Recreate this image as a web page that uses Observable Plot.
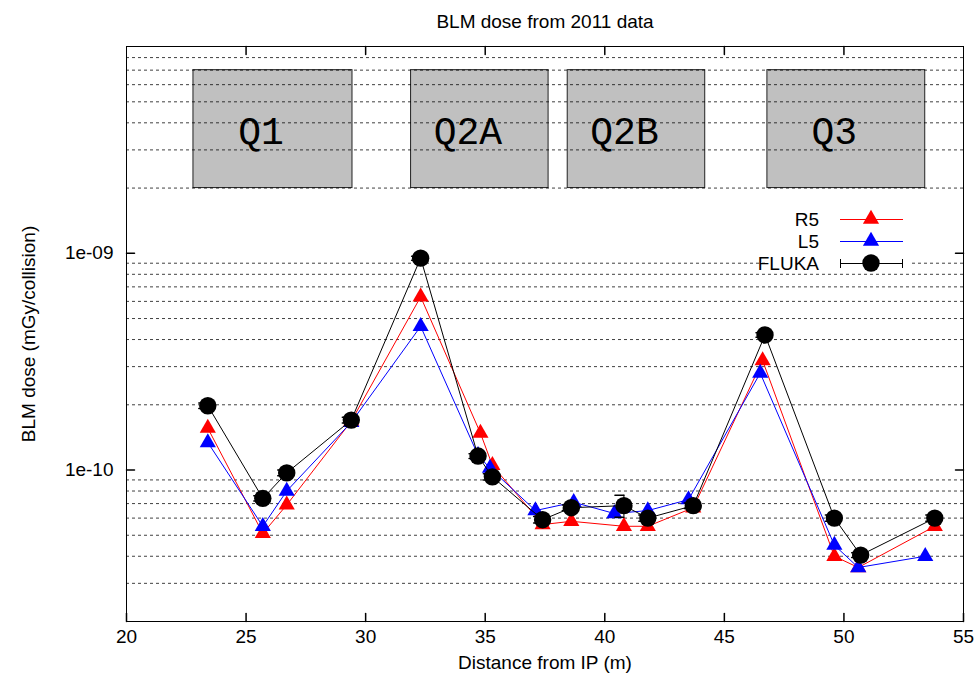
<!DOCTYPE html>
<html><head><meta charset="utf-8">
<script src="https://cdn.jsdelivr.net/npm/d3@7"></script>
<script src="https://cdn.jsdelivr.net/npm/@observablehq/plot@0.6"></script>
<style>
body{margin:0;background:#fff;}
#wrap{position:relative;width:976px;height:680px;}
#legend{position:absolute;left:0;top:0;pointer-events:none;}
</style></head><body><div id="wrap"></div>
<script>
// ---- texts ----
const chartTitle = "BLM dose from 2011 data";
const xLabel = "Distance from IP (m)";
const yLabel = "BLM dose (mGy/collision)";

// ---- axes ----
const xTicks = [20, 25, 30, 35, 40, 45, 50, 55];
const xTopTicks = [25, 30, 35, 40, 45, 50];
const yMajorTicks = [1e-10, 1e-9];
const yMajorLabels = ["1e-10", "1e-09"];
const yGridLines = [3e-11, 4e-11, 5e-11, 6e-11, 7e-11, 8e-11, 9e-11,
  2e-10, 3e-10, 4e-10, 5e-10, 6e-10, 7e-10, 8e-10, 9e-10,
  2e-9, 3e-9, 4e-9, 5e-9, 6e-9, 7e-9, 8e-9];
const xDomain = [20, 55];
const yDomain = [2e-11, 9e-9];

// ---- magnets ----
const magnetNames = ["Q1", "Q2A", "Q2B", "Q3"];
const magnetStart = [22.8, 31.9, 38.45, 46.8];
const magnetEnd = [29.45, 37.65, 44.2, 53.4];
const magnetLow = [2e-9, 2e-9, 2e-9, 2e-9];
const magnetHigh = [7e-9, 7e-9, 7e-9, 7e-9];

// ---- series ----
const seriesNames = ["R5", "L5", "FLUKA"];
const r5X = [23.4, 25.7, 26.7, 29.4, 32.3, 34.8, 35.3, 37.4, 38.6, 40.8, 41.8, 43.7, 46.6, 49.6, 50.6, 53.8];
const r5Y = [1.56e-10, 5.1e-11, 6.9e-11, 1.68e-10, 6.3e-10, 1.48e-10, 1.05e-10, 5.6e-11, 5.8e-11, 5.5e-11, 5.5e-11, 6.7e-11, 3.2e-10, 4.0e-11, 3.55e-11, 5.5e-11];
const l5X = [23.4, 25.7, 26.7, 29.4, 32.3, 34.7, 35.2, 37.1, 38.7, 40.4, 41.8, 43.5, 46.5, 49.6, 50.6, 53.4];
const l5Y = [1.34e-10, 5.5e-11, 8.0e-11, 1.66e-10, 4.6e-10, 1.17e-10, 1.02e-10, 6.5e-11, 7.1e-11, 6.3e-11, 6.5e-11, 7.3e-11, 2.8e-10, 4.5e-11, 3.55e-11, 4.0e-11];
const flukaX = [23.4, 25.7, 26.7, 29.4, 32.3, 34.7, 35.3, 37.4, 38.6, 40.8, 41.8, 43.7, 46.7, 49.6, 50.7, 53.8];
const flukaY = [1.98e-10, 7.4e-11, 9.7e-11, 1.70e-10, 9.5e-10, 1.16e-10, 9.3e-11, 5.9e-11, 6.7e-11, 6.85e-11, 6.0e-11, 6.85e-11, 4.2e-10, 6.0e-11, 4.05e-11, 6.0e-11];
const flukaErr = [6e-12, 2e-12, 3e-12, 5e-12, 2e-11, 3e-12, 3e-12, 2e-12, 2e-12, 8e-12, 2e-12, 2e-12, 1e-11, 2e-12, 1e-12, 2e-12];

// ---- build tables ----
const r5 = r5X.map((x, i) => ({x, y: r5Y[i]}));
const l5 = l5X.map((x, i) => ({x, y: l5Y[i]}));
const fluka = flukaX.map((x, i) => ({x, y: flukaY[i], lo: flukaY[i] - flukaErr[i], hi: flukaY[i] + flukaErr[i]}));
const magnets = magnetNames.map((name, i) => ({name, x1: magnetStart[i], x2: magnetEnd[i], y1: magnetLow[i], y2: magnetHigh[i]}));
const majors = yMajorTicks.map((v, i) => ({v, label: yMajorLabels[i]}));

const FONT = "Liberation Sans, Arial, sans-serif";
const FS = 19;
const lineShape = {draw(ctx, l) { ctx.moveTo(0, 0); ctx.lineTo(0, -l); }};
const capShape = {draw(ctx, l) { ctx.moveTo(0, l / 2); ctx.lineTo(0, -l / 2); }};

const chart = Plot.plot({
  width: 976, height: 680,
  marginLeft: 126, marginRight: 13, marginTop: 46, marginBottom: 59,
  style: {fontFamily: FONT, background: "#fff", color: "#000"},
  x: {domain: xDomain, axis: null},
  y: {type: "log", domain: yDomain, axis: null},
  marks: [
    // magnets
    Plot.rect(magnets, {x1: "x1", x2: "x2", y1: "y1", y2: "y2", fill: "#c0c0c0", stroke: "#222", strokeWidth: 1}),
    Plot.text(magnets, {x: d => (d.x1 + d.x2) / 2, y: d => Math.sqrt(d.y1 * d.y2), text: "name", dx: -12, dy: 3,
      fontFamily: "Liberation Mono, Courier New, monospace", fontSize: 38, fill: "#000"}),
    // grid
    Plot.ruleY(yGridLines, {stroke: "#000", strokeOpacity: 0.75, strokeDasharray: "3,3", strokeWidth: 1}),
    // frame
    Plot.frame({stroke: "#000", strokeWidth: 1}),
    // ticks
    Plot.vector(xTicks, {x: d => d, frameAnchor: "bottom", length: 8, rotate: 0, anchor: "start", shape: lineShape, stroke: "#000"}),
    Plot.vector(xTopTicks, {x: d => d, frameAnchor: "top", length: 8, rotate: 180, anchor: "start", shape: lineShape, stroke: "#000"}),
    Plot.vector(majors, {y: "v", frameAnchor: "left", length: 8, rotate: 90, anchor: "start", shape: lineShape, stroke: "#000"}),
    Plot.vector(majors, {y: "v", frameAnchor: "right", length: 8, rotate: -90, anchor: "start", shape: lineShape, stroke: "#000"}),
    // tick labels
    Plot.text(xTicks, {x: d => d, frameAnchor: "bottom", dy: 21, text: d => String(d), fontSize: FS, fill: "#000"}),
    Plot.text(majors, {y: "v", frameAnchor: "left", dx: -13, textAnchor: "end", text: "label", fontSize: FS, fill: "#000"}),
    // axis titles
    Plot.text([xLabel], {frameAnchor: "bottom", dy: 47, text: d => d, fontSize: FS, fill: "#000"}),
    Plot.text([yLabel], {frameAnchor: "left", dx: -98, rotate: -90, textAnchor: "middle", text: d => d, fontSize: FS, fill: "#000"}),
    Plot.text([chartTitle], {frameAnchor: "top", dy: -32, text: d => d, fontSize: FS, fill: "#000"}),
    // R5
    Plot.line(r5, {x: "x", y: "y", stroke: "#ff0000", strokeWidth: 1}),
    Plot.dot(r5, {x: "x", y: "y", symbol: "triangle", r: 6, fill: "#ff0000"}),
    // L5
    Plot.line(l5, {x: "x", y: "y", stroke: "#0000ff", strokeWidth: 1}),
    Plot.dot(l5, {x: "x", y: "y", symbol: "triangle", r: 6, fill: "#0000ff"}),
    // FLUKA
    Plot.ruleX(fluka, {x: "x", y1: "lo", y2: "hi", stroke: "#000", strokeWidth: 1}),
    Plot.vector(fluka, {x: "x", y: "lo", length: 9, rotate: 90, anchor: "middle", shape: capShape, stroke: "#000"}),
    Plot.vector(fluka, {x: "x", y: "hi", length: 9, rotate: 90, anchor: "middle", shape: capShape, stroke: "#000"}),
    Plot.line(fluka, {x: "x", y: "y", stroke: "#000", strokeWidth: 1}),
    Plot.dot(fluka, {x: "x", y: "y", r: 8.7, fill: "#000"})
  ]
});
document.getElementById("wrap").appendChild(chart);

// ---- legend (overlay) ----
const triPath = d3.symbol(d3.symbolTriangle, Math.PI * 36)();
const circPath = d3.symbol(d3.symbolCircle, Math.PI * 8.7 * 8.7)();
const colors = ["#ff0000", "#0000ff", "#000"];
const rowY = [219, 241, 263];
const lg = d3.create("svg").attr("id", "legend").attr("width", 976).attr("height", 680)
  .style("font-family", FONT);
lg.append("rect").attr("x", 768).attr("y", 206).attr("width", 144).attr("height", 64).attr("fill", "#fff");
seriesNames.forEach((name, i) => {
  const g = lg.append("g").attr("transform", `translate(0,${rowY[i]})`);
  g.append("text").attr("x", 819).attr("y", 0).attr("dy", "0.35em").attr("text-anchor", "end")
    .attr("font-size", FS).attr("fill", "#000").text(name);
  g.append("line").attr("x1", 840).attr("x2", 903).attr("y1", 0.5).attr("y2", 0.5)
    .attr("stroke", colors[i]).attr("stroke-width", 1);
  if (i < 2) {
    g.append("path").attr("d", triPath).attr("transform", "translate(871,0)").attr("fill", colors[i]);
  } else {
    g.append("line").attr("x1", 840.5).attr("x2", 840.5).attr("y1", -4).attr("y2", 5).attr("stroke", "#000");
    g.append("line").attr("x1", 902.5).attr("x2", 902.5).attr("y1", -4).attr("y2", 5).attr("stroke", "#000");
    g.append("path").attr("d", circPath).attr("transform", "translate(871,0)").attr("fill", "#000");
  }
});
document.getElementById("wrap").appendChild(lg.node());
</script>
</body></html>
